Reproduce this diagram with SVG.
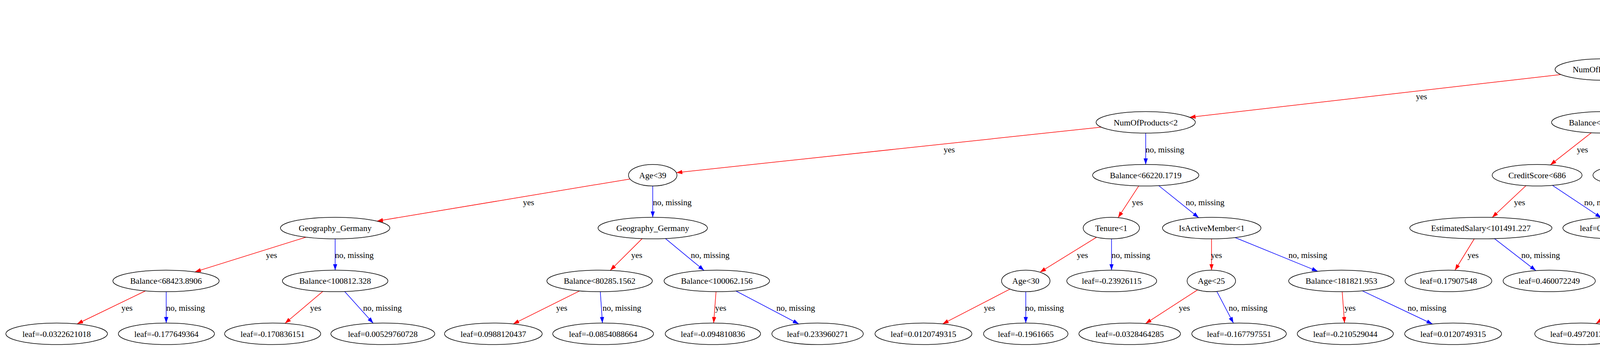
<svg xmlns="http://www.w3.org/2000/svg" width="7769" height="898" viewBox="0 0 7769 898">
<style>
text{font-family:"Liberation Serif","Times New Roman",serif;font-size:21.5px;text-anchor:middle;fill:#000}
.nd ellipse{fill:none;stroke:#000;stroke-width:1.5}
.y line{stroke:#f00;stroke-width:1.5;marker-end:url(#ar)}
.b line{stroke:#00f;stroke-width:1.5;marker-end:url(#ab)}
</style>
<defs>
<marker id="ar" markerUnits="userSpaceOnUse" viewBox="0 0 15.4 10.7" markerWidth="15.4" markerHeight="10.7" refX="15.4" refY="5.35" orient="auto"><path d="M0,0L15.4,5.35L0,10.7z" fill="#f00"/></marker>
<marker id="ab" markerUnits="userSpaceOnUse" viewBox="0 0 15.4 10.7" markerWidth="15.4" markerHeight="10.7" refX="15.4" refY="5.35" orient="auto"><path d="M0,0L15.4,5.35L0,10.7z" fill="#00f"/></marker>
</defs>
<rect x="0" y="0" width="7769" height="898" fill="#fff"/>
<g id="edges">
<g class="y"><line x1="4628.2" y1="55.4" x2="4194.2" y2="157.5"/><text x="4463" y="119">yes</text></g>
<g class="b"><line x1="4735.2" y1="57.4" x2="5079.2" y2="155.8"/><text x="5012" y="119">no, missing</text></g>
<g class="y"><line x1="3995.8" y1="190.7" x2="3045.2" y2="300.1"/><text x="3639" y="254.25">yes</text></g>
<g class="b"><line x1="4108" y1="205.35" x2="4108" y2="285.4"/><text x="4158" y="254.25">no, missing</text></g>
<g class="y"><line x1="5156" y1="205.35" x2="5156" y2="285.4"/><text x="5170" y="254.25">yes</text></g>
<g class="b"><line x1="5261.2" y1="193.2" x2="5969.8" y2="297.5"/><text x="5747" y="254.25">no, missing</text></g>
<g class="y"><line x1="2819.1" y1="325.2" x2="1731.3" y2="441.8"/><text x="2430" y="389.5">yes</text></g>
<g class="b"><line x1="2933" y1="340.6" x2="2933" y2="420.65"/><text x="2982" y="389.5">no, missing</text></g>
<g class="y"><line x1="4073.8" y1="339.7" x2="3968.8" y2="421.9"/><text x="4051" y="389.5">yes</text></g>
<g class="b"><line x1="4124.4" y1="340.4" x2="4172.7" y2="420.95"/><text x="4204" y="389.5">no, missing</text></g>
<g class="y"><line x1="5126.6" y1="337.3" x2="5024.4" y2="421.6"/><text x="5105" y="389.5">yes</text></g>
<g class="b"><line x1="5196.8" y1="333.8" x2="5380.3" y2="427.45"/><text x="5361" y="389.5">no, missing</text></g>
<g class="y"><line x1="6075" y1="340.6" x2="6075" y2="420.65"/><text x="6087" y="389.5">yes</text></g>
<g class="b"><line x1="6125.9" y1="338.3" x2="6296.8" y2="423.3"/><text x="6284" y="389.5">no, missing</text></g>
<g class="y"><line x1="1612.9" y1="457.9" x2="965" y2="565.7"/><text x="1353" y="524.75">yes</text></g>
<g class="b"><line x1="1671" y1="475.85" x2="1671" y2="555.9"/><text x="1721" y="524.75">no, missing</text></g>
<g class="y"><line x1="2915.2" y1="475.6" x2="2862.4" y2="556.7"/><text x="2912" y="524.75">yes</text></g>
<g class="b"><line x1="2966.4" y1="475" x2="3068.7" y2="556.9"/><text x="3085" y="524.75">no, missing</text></g>
<g class="y"><line x1="3906.5" y1="475" x2="3820" y2="556.25"/><text x="3890" y="524.75">yes</text></g>
<g class="b"><line x1="3974.1" y1="474.2" x2="4099.1" y2="557.1"/><text x="4105" y="524.75">no, missing</text></g>
<g class="y"><line x1="4916.2" y1="470.4" x2="4607.3" y2="560.6"/><text x="4817" y="524.75">yes</text></g>
<g class="b"><line x1="4992" y1="475.85" x2="4992" y2="555.9"/><text x="5043" y="524.75">no, missing</text></g>
<g class="y"><line x1="5421" y1="475.85" x2="5421" y2="555.9"/><text x="5435" y="524.75">yes</text></g>
<g class="b"><line x1="5456" y1="471" x2="5589.1" y2="557.5"/><text x="5593" y="524.75">no, missing</text></g>
<g class="y"><line x1="6075" y1="475.85" x2="6075" y2="555.9"/><text x="6088" y="524.75">yes</text></g>
<g class="b"><line x1="6177.4" y1="464.6" x2="6817" y2="566.5"/><text x="6593" y="524.75">no, missing</text></g>
<g class="y"><line x1="783.3" y1="606.8" x2="499.1" y2="695.6"/><text x="695" y="660">yes</text></g>
<g class="b"><line x1="858" y1="611.1" x2="858" y2="691.15"/><text x="907" y="660">no, missing</text></g>
<g class="y"><line x1="1643.8" y1="610.6" x2="1562.2" y2="691.7"/><text x="1630" y="660">yes</text></g>
<g class="b"><line x1="1703.6" y1="610.3" x2="1802.5" y2="692"/><text x="1818" y="660">no, missing</text></g>
<g class="y"><line x1="2807" y1="607" x2="2662.3" y2="696.4"/><text x="2771" y="660">yes</text></g>
<g class="b"><line x1="2845.5" y1="611.1" x2="2845.5" y2="691.15"/><text x="2895" y="660">no, missing</text></g>
<g class="y"><line x1="3101.5" y1="611.1" x2="3101.5" y2="691.15"/><text x="3114" y="660">yes</text></g>
<g class="b"><line x1="3161.7" y1="607.8" x2="3373.5" y2="694.1"/><text x="3348" y="660">no, missing</text></g>
<g class="y"><line x1="3774.1" y1="611" x2="3724.7" y2="691.5"/><text x="3771" y="660">yes</text></g>
<g class="b"><line x1="3826" y1="610.6" x2="3931.8" y2="692.3"/><text x="3944" y="660">no, missing</text></g>
<g class="y"><line x1="4475.8" y1="609" x2="4300" y2="693.3"/><text x="4427" y="660">yes</text></g>
<g class="b"><line x1="4529.5" y1="611.1" x2="4529.5" y2="691.15"/><text x="4578" y="660">no, missing</text></g>
<g class="y"><line x1="4956.4" y1="610" x2="4845.8" y2="692.1"/><text x="4932" y="660">yes</text></g>
<g class="b"><line x1="5012.3" y1="610.7" x2="5072.7" y2="691.6"/><text x="5101" y="660">no, missing</text></g>
<g class="y"><line x1="5421" y1="611.1" x2="5421" y2="691.15"/><text x="5435" y="660">yes</text></g>
<g class="b"><line x1="5466" y1="602.5" x2="5684.9" y2="695"/><text x="5658" y="660">no, missing</text></g>
<g class="y"><line x1="6062.8" y1="611" x2="6027.2" y2="691.3"/><text x="6064" y="660">yes</text></g>
<g class="b"><line x1="6109" y1="610.3" x2="6216.5" y2="694.7"/><text x="6230" y="660">no, missing</text></g>
<g class="y"><line x1="6924" y1="611.1" x2="6924" y2="691.15"/><text x="6938" y="660">yes</text></g>
<g class="b"><line x1="6998" y1="606.7" x2="7305.3" y2="702.9"/><text x="7227" y="660">no, missing</text></g>
<g class="y"><line x1="372.3" y1="744.2" x2="197.3" y2="828.7"/><text x="325" y="795.25">yes</text></g>
<g class="b"><line x1="425.5" y1="746.35" x2="425.5" y2="826.4"/><text x="475" y="795.25">no, missing</text></g>
<g class="y"><line x1="826.3" y1="745.6" x2="729.6" y2="827.3"/><text x="808" y="795.25">yes</text></g>
<g class="b"><line x1="882.5" y1="745.9" x2="955.5" y2="826.9"/><text x="979" y="795.25">no, missing</text></g>
<g class="y"><line x1="1483.7" y1="744.3" x2="1313.7" y2="828.8"/><text x="1438" y="795.25">yes</text></g>
<g class="b"><line x1="1536.8" y1="746.3" x2="1542.2" y2="826.4"/><text x="1592" y="795.25">no, missing</text></g>
<g class="y"><line x1="1833" y1="746.3" x2="1827" y2="826.4"/><text x="1845" y="795.25">yes</text></g>
<g class="b"><line x1="1884.1" y1="744.5" x2="2045" y2="828.8"/><text x="2037" y="795.25">no, missing</text></g>
<g class="y"><line x1="2585.5" y1="739.65" x2="2413.1" y2="828.7"/><text x="2533" y="795.25">yes</text></g>
<g class="b"><line x1="2626" y1="746.35" x2="2626" y2="826.4"/><text x="2674" y="795.25">no, missing</text></g>
<g class="y"><line x1="3065.9" y1="741.5" x2="2932.5" y2="827.8"/><text x="3032" y="795.25">yes</text></g>
<g class="b"><line x1="3115.1" y1="745.6" x2="3157.6" y2="826.6"/><text x="3195" y="795.25">no, missing</text></g>
<g class="y"><line x1="3436" y1="746.3" x2="3442" y2="826.4"/><text x="3456" y="795.25">yes</text></g>
<g class="b"><line x1="3487.6" y1="744.1" x2="3667.2" y2="829"/><text x="3653" y="795.25">no, missing</text></g>
<g class="y"><line x1="4207.9" y1="745.2" x2="4085.6" y2="827.9"/><text x="4180" y="795.25">yes</text></g>
<g class="b"><line x1="4260" y1="746.2" x2="4298" y2="826.6"/><text x="4336" y="795.25">no, missing</text></g>
<g class="y"><line x1="4770.2" y1="745.1" x2="4645.4" y2="827.9"/><text x="4740" y="795.25">yes</text></g>
<g class="b"><line x1="4824.4" y1="746.2" x2="4866.6" y2="826.6"/><text x="4904" y="795.25">no, missing</text></g>
<g class="y"><line x1="5370.4" y1="745.3" x2="5211" y2="828.8"/><text x="5330" y="795.25">yes</text></g>
<g class="b"><line x1="5422.2" y1="746.35" x2="5425.8" y2="826.4"/><text x="5474" y="795.25">no, missing</text></g>
<g class="y"><line x1="5956.4" y1="743.7" x2="5753.9" y2="829.8"/><text x="5898" y="795.25">yes</text></g>
<g class="b"><line x1="6006" y1="746.3" x2="5980" y2="826.5"/><text x="6046" y="795.25">no, missing</text></g>
<g class="y"><line x1="6247" y1="746.35" x2="6247" y2="826.4"/><text x="6260" y="795.25">yes</text></g>
<g class="b"><line x1="6288.3" y1="739.35" x2="6467.5" y2="828.8"/><text x="6455" y="795.25">no, missing</text></g>
<g class="y"><line x1="6899.3" y1="745.7" x2="6824.8" y2="826.9"/><text x="6887" y="795.25">yes</text></g>
<g class="b"><line x1="6954.7" y1="745.35" x2="7049.2" y2="827.3"/><text x="7066" y="795.25">no, missing</text></g>
<g class="y"><line x1="7355.5" y1="746.35" x2="7355.5" y2="826.4"/><text x="7370" y="795.25">yes</text></g>
<g class="b"><line x1="7397.7" y1="739.2" x2="7580.9" y2="828.9"/><text x="7567" y="795.25">no, missing</text></g>
</g>
<g id="nodes">
<g id="n0" class="nd"><ellipse cx="4683" cy="42.5" rx="62" ry="27.6"/><text x="4683" y="50">Age&lt;43</text></g>
<g id="n1" class="nd"><ellipse cx="4108" cy="177.75" rx="127" ry="27.6"/><text x="4108" y="185.25">NumOfProducts&lt;3</text></g>
<g id="n2" class="nd"><ellipse cx="5156" cy="177.75" rx="127" ry="27.6"/><text x="5156" y="185.25">IsActiveMember&lt;1</text></g>
<g id="n3" class="nd"><ellipse cx="2933" cy="313" rx="127" ry="27.6"/><text x="2933" y="320.5">NumOfProducts&lt;2</text></g>
<g id="n4" class="nd"><ellipse cx="4108" cy="313" rx="136" ry="27.6"/><text x="4108" y="320.5">Balance&lt;38617.1992</text></g>
<g id="n5" class="nd"><ellipse cx="5156" cy="313" rx="62" ry="27.6"/><text x="5156" y="320.5">Age&lt;51</text></g>
<g id="n6" class="nd"><ellipse cx="6075" cy="313" rx="127" ry="27.6"/><text x="6075" y="320.5">NumOfProducts&lt;3</text></g>
<g id="n7" class="nd"><ellipse cx="1671" cy="448.25" rx="62" ry="27.6"/><text x="1671" y="455.75">Age&lt;39</text></g>
<g id="n8" class="nd"><ellipse cx="2933" cy="448.25" rx="136" ry="27.6"/><text x="2933" y="455.75">Balance&lt;66220.1719</text></g>
<g id="n9" class="nd"><ellipse cx="3935" cy="448.25" rx="115" ry="27.6"/><text x="3935" y="455.75">CreditScore&lt;686</text></g>
<g id="n10" class="nd"><ellipse cx="4189" cy="448.25" rx="111" ry="27.6"/><text x="4189" y="455.75">leaf=0.72424233</text></g>
<g id="n11" class="nd"><ellipse cx="4992" cy="448.25" rx="127" ry="27.6"/><text x="4992" y="455.75">NumOfProducts&lt;2</text></g>
<g id="n12" class="nd"><ellipse cx="5421" cy="448.25" rx="62" ry="27.6"/><text x="5421" y="455.75">Age&lt;69</text></g>
<g id="n13" class="nd"><ellipse cx="6075" cy="448.25" rx="127" ry="27.6"/><text x="6075" y="455.75">NumOfProducts&lt;2</text></g>
<g id="n14" class="nd"><ellipse cx="6347" cy="448.25" rx="118" ry="27.6"/><text x="6347" y="455.75">leaf=0.706765652</text></g>
<g id="n15" class="nd"><ellipse cx="858" cy="583.5" rx="140" ry="27.6"/><text x="858" y="591">Geography_Germany</text></g>
<g id="n16" class="nd"><ellipse cx="1671" cy="583.5" rx="140" ry="27.6"/><text x="1671" y="591">Geography_Germany</text></g>
<g id="n17" class="nd"><ellipse cx="2845" cy="583.5" rx="72" ry="27.6"/><text x="2845" y="591">Tenure&lt;1</text></g>
<g id="n18" class="nd"><ellipse cx="3102" cy="583.5" rx="126" ry="27.6"/><text x="3102" y="591">IsActiveMember&lt;1</text></g>
<g id="n19" class="nd"><ellipse cx="3791" cy="583.5" rx="182" ry="27.6"/><text x="3791" y="591">EstimatedSalary&lt;101491.227</text></g>
<g id="n20" class="nd"><ellipse cx="4139" cy="583.5" rx="138" ry="27.6"/><text x="4139" y="591">leaf=0.000967238215</text></g>
<g id="n21" class="nd"><ellipse cx="4529" cy="583.5" rx="140" ry="27.6"/><text x="4529" y="591">Geography_Germany</text></g>
<g id="n22" class="nd"><ellipse cx="4992" cy="583.5" rx="127" ry="27.6"/><text x="4992" y="591">NumOfProducts&lt;3</text></g>
<g id="n23" class="nd"><ellipse cx="5421" cy="583.5" rx="62" ry="27.6"/><text x="5421" y="591">Age&lt;52</text></g>
<g id="n24" class="nd"><ellipse cx="5629" cy="583.5" rx="118" ry="27.6"/><text x="5629" y="591">leaf=0.134851024</text></g>
<g id="n25" class="nd"><ellipse cx="6075" cy="583.5" rx="140" ry="27.6"/><text x="6075" y="591">Geography_Germany</text></g>
<g id="n26" class="nd"><ellipse cx="6924" cy="583.5" rx="136" ry="27.6"/><text x="6924" y="591">Balance&lt;44301.4297</text></g>
<g id="n27" class="nd"><ellipse cx="425" cy="718.75" rx="136" ry="27.6"/><text x="425" y="726.25">Balance&lt;68423.8906</text></g>
<g id="n28" class="nd"><ellipse cx="858" cy="718.75" rx="135" ry="27.6"/><text x="858" y="726.25">Balance&lt;100812.328</text></g>
<g id="n29" class="nd"><ellipse cx="1535" cy="718.75" rx="135" ry="27.6"/><text x="1535" y="726.25">Balance&lt;80285.1562</text></g>
<g id="n30" class="nd"><ellipse cx="1835" cy="718.75" rx="135" ry="27.6"/><text x="1835" y="726.25">Balance&lt;100062.156</text></g>
<g id="n31" class="nd"><ellipse cx="2626" cy="718.75" rx="62" ry="27.6"/><text x="2626" y="726.25">Age&lt;30</text></g>
<g id="n32" class="nd"><ellipse cx="2846" cy="718.75" rx="115" ry="27.6"/><text x="2846" y="726.25">leaf=-0.23926115</text></g>
<g id="n33" class="nd"><ellipse cx="3101" cy="718.75" rx="62" ry="27.6"/><text x="3101" y="726.25">Age&lt;25</text></g>
<g id="n34" class="nd"><ellipse cx="3434" cy="718.75" rx="135" ry="27.6"/><text x="3434" y="726.25">Balance&lt;181821.953</text></g>
<g id="n35" class="nd"><ellipse cx="3708" cy="718.75" rx="111" ry="27.6"/><text x="3708" y="726.25">leaf=0.17907548</text></g>
<g id="n36" class="nd"><ellipse cx="3966" cy="718.75" rx="118" ry="27.6"/><text x="3966" y="726.25">leaf=0.460072249</text></g>
<g id="n37" class="nd"><ellipse cx="4247" cy="718.75" rx="136" ry="27.6"/><text x="4247" y="726.25">Balance&lt;47884.9219</text></g>
<g id="n38" class="nd"><ellipse cx="4530" cy="718.75" rx="118" ry="27.6"/><text x="4530" y="726.25">leaf=0.597514987</text></g>
<g id="n39" class="nd"><ellipse cx="4810" cy="718.75" rx="135" ry="27.6"/><text x="4810" y="726.25">Balance&lt;81684.9688</text></g>
<g id="n40" class="nd"><ellipse cx="5093" cy="718.75" rx="117" ry="27.6"/><text x="5093" y="726.25">leaf=0.747321188</text></g>
<g id="n41" class="nd"><ellipse cx="5421" cy="718.75" rx="182" ry="27.6"/><text x="5421" y="726.25">EstimatedSalary&lt;74564.4062</text></g>
<g id="n42" class="nd"><ellipse cx="5741" cy="718.75" rx="110" ry="27.6"/><text x="5741" y="726.25">leaf=0.71981895</text></g>
<g id="n43" class="nd"><ellipse cx="6015" cy="718.75" rx="136" ry="27.6"/><text x="6015" y="726.25">Balance&lt;66220.1719</text></g>
<g id="n44" class="nd"><ellipse cx="6247" cy="718.75" rx="62" ry="27.6"/><text x="6247" y="726.25">Age&lt;58</text></g>
<g id="n45" class="nd"><ellipse cx="6924" cy="718.75" rx="115" ry="27.6"/><text x="6924" y="726.25">CreditScore&lt;508</text></g>
<g id="n46" class="nd"><ellipse cx="7356" cy="718.75" rx="62" ry="27.6"/><text x="7356" y="726.25">Age&lt;68</text></g>
<g id="n47" class="nd"><ellipse cx="145" cy="854" rx="130" ry="27.6"/><text x="145" y="861.5">leaf=-0.0322621018</text></g>
<g id="n48" class="nd"><ellipse cx="426" cy="854" rx="123" ry="27.6"/><text x="426" y="861.5">leaf=-0.177649364</text></g>
<g id="n49" class="nd"><ellipse cx="698" cy="854" rx="123" ry="27.6"/><text x="698" y="861.5">leaf=-0.170836151</text></g>
<g id="n50" class="nd"><ellipse cx="980" cy="854" rx="133" ry="27.6"/><text x="980" y="861.5">leaf=0.00529760728</text></g>
<g id="n51" class="nd"><ellipse cx="1263" cy="854" rx="125" ry="27.6"/><text x="1263" y="861.5">leaf=0.0988120437</text></g>
<g id="n52" class="nd"><ellipse cx="1544" cy="854" rx="129" ry="27.6"/><text x="1544" y="861.5">leaf=-0.0854088664</text></g>
<g id="n53" class="nd"><ellipse cx="1825" cy="854" rx="122" ry="27.6"/><text x="1825" y="861.5">leaf=-0.094810836</text></g>
<g id="n54" class="nd"><ellipse cx="2093" cy="854" rx="117" ry="27.6"/><text x="2093" y="861.5">leaf=0.233960271</text></g>
<g id="n55" class="nd"><ellipse cx="2364" cy="854" rx="124" ry="27.6"/><text x="2364" y="861.5">leaf=0.0120749315</text></g>
<g id="n56" class="nd"><ellipse cx="2626" cy="854" rx="108" ry="27.6"/><text x="2626" y="861.5">leaf=-0.1961665</text></g>
<g id="n57" class="nd"><ellipse cx="2892" cy="854" rx="130" ry="27.6"/><text x="2892" y="861.5">leaf=-0.0328464285</text></g>
<g id="n58" class="nd"><ellipse cx="3172" cy="854" rx="121" ry="27.6"/><text x="3172" y="861.5">leaf=-0.167797551</text></g>
<g id="n59" class="nd"><ellipse cx="3444" cy="854" rx="123" ry="27.6"/><text x="3444" y="861.5">leaf=-0.210529044</text></g>
<g id="n60" class="nd"><ellipse cx="3720" cy="854" rx="124" ry="27.6"/><text x="3720" y="861.5">leaf=0.0120749315</text></g>
<g id="n61" class="nd"><ellipse cx="4047" cy="854" rx="118" ry="27.6"/><text x="4047" y="861.5">leaf=0.497201353</text></g>
<g id="n62" class="nd"><ellipse cx="4311" cy="854" rx="118" ry="27.6"/><text x="4311" y="861.5">leaf=0.197801933</text></g>
<g id="n63" class="nd"><ellipse cx="4606" cy="854" rx="122" ry="27.6"/><text x="4606" y="861.5">leaf=-0.121869065</text></g>
<g id="n64" class="nd"><ellipse cx="4881" cy="854" rx="125" ry="27.6"/><text x="4881" y="861.5">leaf=0.0501627997</text></g>
<g id="n65" class="nd"><ellipse cx="5163" cy="854" rx="117" ry="27.6"/><text x="5163" y="861.5">leaf=0.198574439</text></g>
<g id="n66" class="nd"><ellipse cx="5427" cy="854" rx="118" ry="27.6"/><text x="5427" y="861.5">leaf=0.519645035</text></g>
<g id="n67" class="nd"><ellipse cx="5697" cy="854" rx="118" ry="27.6"/><text x="5697" y="861.5">leaf=0.208125159</text></g>
<g id="n68" class="nd"><ellipse cx="5971" cy="854" rx="129" ry="27.6"/><text x="5971" y="861.5">leaf=-0.0423280299</text></g>
<g id="n69" class="nd"><ellipse cx="6247" cy="854" rx="117" ry="27.6"/><text x="6247" y="861.5">leaf=0.420977205</text></g>
<g id="n70" class="nd"><ellipse cx="6518" cy="854" rx="124" ry="27.6"/><text x="6518" y="861.5">leaf=0.0507773943</text></g>
<g id="n71" class="nd"><ellipse cx="6800" cy="854" rx="129" ry="27.6"/><text x="6800" y="861.5">leaf=-0.0902675763</text></g>
<g id="n72" class="nd"><ellipse cx="7080" cy="854" rx="122" ry="27.6"/><text x="7080" y="861.5">leaf=-0.224153757</text></g>
<g id="n73" class="nd"><ellipse cx="7355" cy="854" rx="124" ry="27.6"/><text x="7355" y="861.5">leaf=0.0282631163</text></g>
<g id="n74" class="nd"><ellipse cx="7632" cy="854" rx="122" ry="27.6"/><text x="7632" y="861.5">leaf=-0.182204023</text></g>
</g>
</svg>
